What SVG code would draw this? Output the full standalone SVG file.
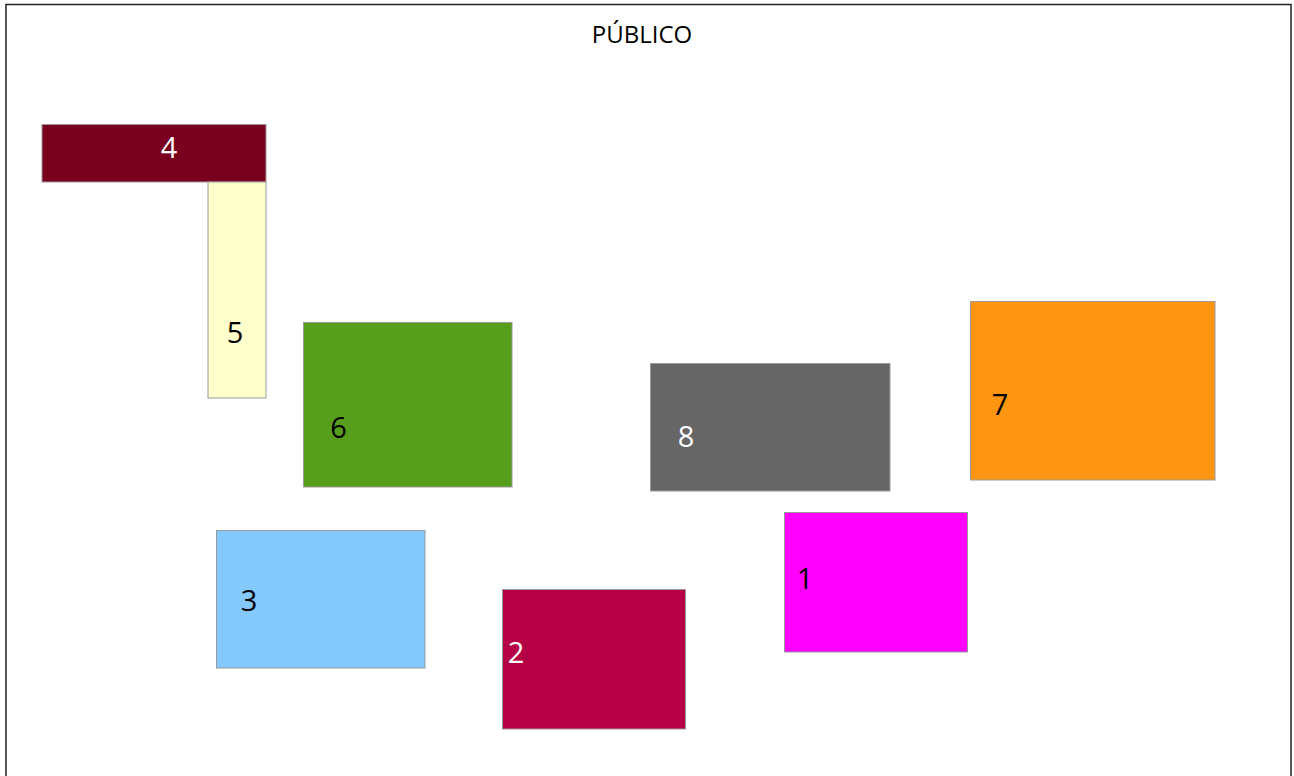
<svg xmlns="http://www.w3.org/2000/svg" width="1294" height="776" viewBox="0 0 1294 776">
<style>
.box{stroke:#9a9a9a;stroke-width:1}
.num{font-family:"Open Sans","Liberation Sans",sans-serif;font-size:29px;text-anchor:middle}
.w{fill:#ffffff}
.k{fill:#000000}
</style>
<rect width="1294" height="776" fill="#ffffff"/>
<rect x="6" y="4.5" width="1285" height="790" fill="none" stroke="#222222" stroke-width="1.5"/>
<text x="642" y="43" font-family="'Open Sans','Liberation Sans',sans-serif" font-size="24" text-anchor="middle" fill="#000">PÚBLICO</text>
<g id="connectors"></g>
<g id="n4"><rect class="box" x="42" y="124.5" width="224" height="57.5" fill="#7a0020"/><text class="num w" x="169" y="158">4</text></g>
<g id="n5"><rect class="box" x="208" y="182" width="58" height="216" fill="#ffffcc"/><text class="num k" x="235" y="343">5</text></g>
<g id="n6"><rect class="box" x="303.5" y="322.5" width="208.5" height="164.5" fill="#579e1d"/><text class="num k" x="338.5" y="438">6</text></g>
<g id="n8"><rect class="box" x="650.5" y="363.5" width="239.5" height="127.5" fill="#666666"/><text class="num w" x="686" y="447">8</text></g>
<g id="n7"><rect class="box" x="970.5" y="301.5" width="244.5" height="178.5" fill="#ff9510"/><text class="num k" x="1000" y="415">7</text></g>
<g id="n3"><rect class="box" x="216.5" y="530.5" width="208.5" height="137.5" fill="#83c9fe"/><text class="num k" x="249" y="611">3</text></g>
<g id="n2"><rect class="box" x="502.5" y="589.5" width="183" height="139.5" fill="#b60045"/><text class="num w" x="516" y="663">2</text></g>
<g id="n1"><rect class="box" x="784.5" y="512.5" width="183" height="139.5" fill="#ff00ff"/><text class="num k" x="805" y="589">1</text></g>
</svg>
